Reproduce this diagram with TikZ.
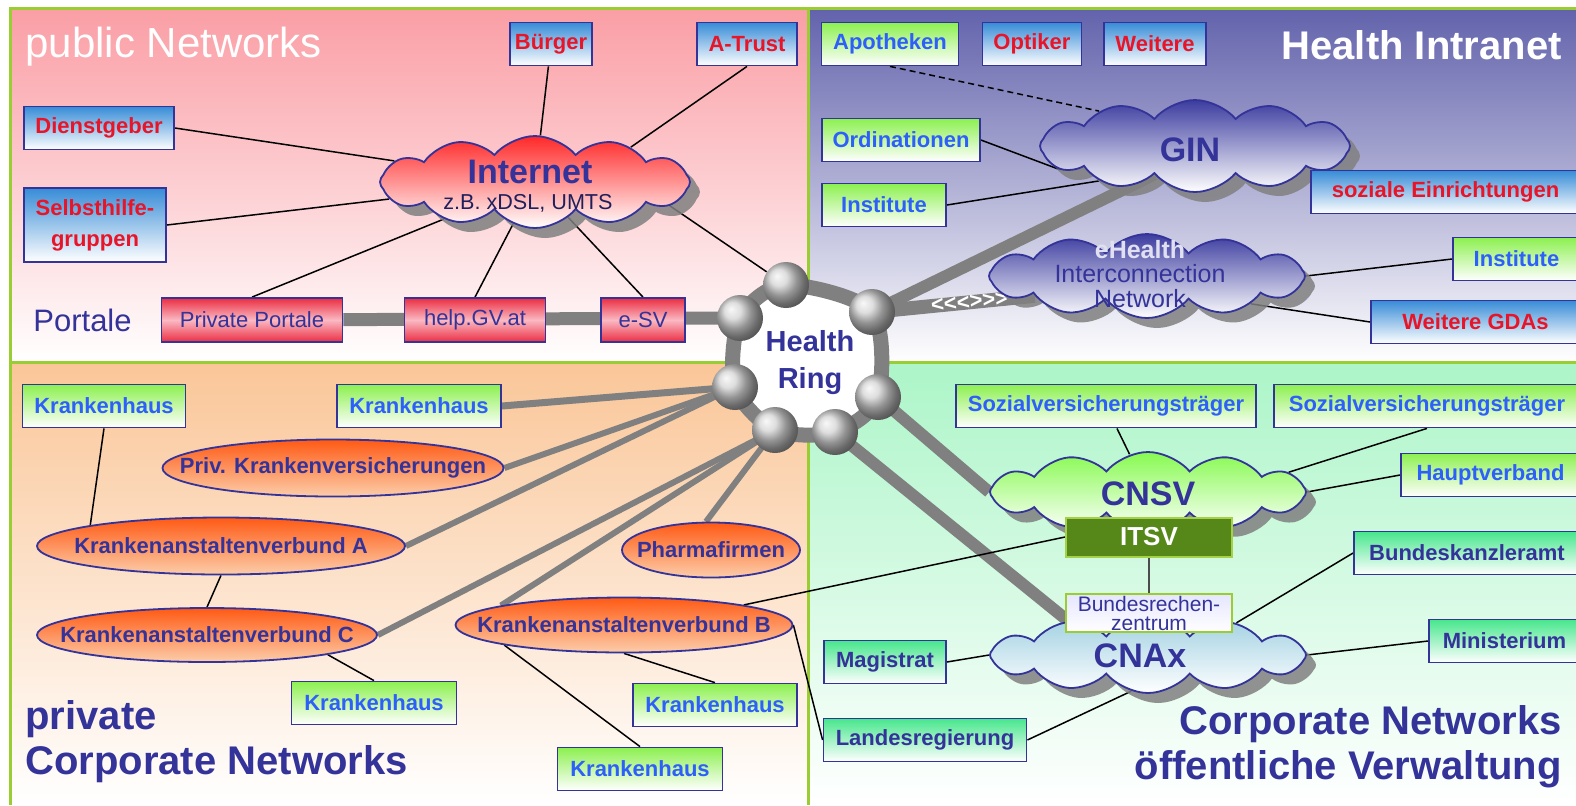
\documentclass[tikz,border=0pt]{standalone}
\usepackage{fontspec}
\setmainfont{Liberation Sans}
\usetikzlibrary{shapes.geometric,shapes.symbols,shadows}
\definecolor{nblue}{RGB}{51,51,153}
\definecolor{tred}{RGB}{232,20,40}
\definecolor{tblue}{RGB}{45,95,250}
\definecolor{bxblue}{RGB}{55,140,215}
\definecolor{bxgreen}{RGB}{140,240,80}
\definecolor{bxteal}{RGB}{70,230,140}
\definecolor{portred}{RGB}{235,45,65}
\definecolor{portpink}{RGB}{250,185,195}
\definecolor{lgreen}{RGB}{154,205,50}
\definecolor{itsvgreen}{RGB}{85,135,25}
\definecolor{ringgray}{RGB}{128,128,128}
\definecolor{pinkq}{RGB}{250,158,165}
\definecolor{violq}{RGB}{98,98,172}
\definecolor{orangeq}{RGB}{250,198,152}
\definecolor{greenq}{RGB}{172,245,200}
\definecolor{ellorange}{RGB}{255,90,20}
\definecolor{ellpeach}{RGB}{252,205,170}
\definecolor{cnaxblue}{RGB}{160,208,225}
\definecolor{cnsvgreen}{RGB}{135,250,80}
\definecolor{ginblue}{RGB}{60,60,160}
\definecolor{inetred}{RGB}{255,40,40}
\pgfdeclarelayer{bg}
\pgfdeclarelayer{links}
\pgfdeclarelayer{ringl}
\pgfsetlayers{bg,links,ringl,main}
\newcommand\ztext[1]{\makebox[0pt]{#1}}
\newcommand\chevrons{<\kern0pt<\kern0pt<\kern0pt>\kern0pt>\kern0pt>}
\tikzset{
    rimline/.style={draw=lgreen, line width=1.5pt},
    bx/.style={rectangle, draw=nblue, line width=0.9pt, minimum height=21.5pt,
        inner sep=0pt, font=\fontsize{11}{12}\selectfont\bfseries, bottom color=white},
    bxred/.style={bx, top color=bxblue, text=tred},
    bxgrn/.style={bx, top color=bxgreen, text=tblue},
    bxteal/.style={bx, top color=bxteal, text=nblue},
    portal/.style={rectangle, draw=nblue, line width=0.9pt, minimum height=22pt,
        inner sep=0pt, top color=portred, bottom color=portred, middle color=portpink,
        text=nblue, font=\fontsize{11}{12}\selectfont},
    ell/.style={ellipse, draw=nblue, line width=0.9pt, inner sep=0pt, bottom color=ellpeach,
        top color=ellorange, text=nblue, font=\fontsize{11}{12}\selectfont\bfseries},
    net/.style={cloud, cloud puffs=12, cloud puff arc=100, cloud ignores aspect,
        draw=nblue, line width=0.9pt, inner sep=0pt, bottom color=white,
        drop shadow={shadow xshift=5pt, shadow yshift=-5pt, fill=ringgray, opacity=0.85}},
    nettext/.style={text=nblue, font=\fontsize{17}{18}\selectfont\bfseries},
    link/.style={draw=black, line width=0.75pt},
    trunk/.style={draw=ringgray, line width=6pt},
    spoke/.style={draw=ringgray, line width=3pt},
    ringball/.style={circle, minimum size=23pt, inner sep=0pt, ball color=gray!35},
    bigtitle/.style={inner sep=0pt, font=\fontsize{20}{22.5}\selectfont\bfseries}
}

\begin{document}
\begin{tikzpicture}[x=0.5pt,y=-0.5pt]
        \useasboundingbox (0,0) rectangle (1576,805);
        \begin{pgfonlayer}{bg}
            \fill[white] (0,0) rectangle (1576,805);
            \fill[top color=pinkq, bottom color=white] (10,8) rectangle (808,362);
            \fill[top color=violq, bottom color=white] (808,8) rectangle (1576,362);
            \fill[top color=orangeq, bottom color=white] (10,362) rectangle (808,805);
            \fill[top color=greenq, bottom color=white] (808,362) rectangle (1576,805);
            \draw[rimline] (10,805) -- (10,8) -- (1576,8);
            \draw[rimline] (10,362) -- (1576,362);
            \draw[rimline] (808,8) -- (808,805);
        \end{pgfonlayer}

        \node[text=white, inner sep=0pt, font=\fontsize{21}{24}\selectfont, anchor=base west] (pubtitle) at (25,57) {public Networks};
        \node[text=white, inner sep=0pt, font=\fontsize{20}{24}\selectfont\bfseries, anchor=base east] (hititle) at (1562,59) {Health Intranet};
        \node[text=nblue, inner sep=0pt, font=\fontsize{15.5}{18}\selectfont, anchor=base west] (portale) at (33,331) {Portale};
        \node[bigtitle, text=nblue, align=left, anchor=north west] (privtitle) at (25,700) {private\\Corporate Networks};
        \node[bigtitle, text=nblue, align=right, anchor=north east] (pubcorp) at (1562,705) {Corporate Networks\\öffentliche Verwaltung};

        \node[ringball] (b1) at (786,285) {};
        \node[ringball] (b2) at (872,312) {};
        \node[ringball] (b3) at (878,397) {};
        \node[ringball] (b4) at (835,432) {};
        \node[ringball] (b5) at (775,430) {};
        \node[ringball] (b6) at (735,387) {};
        \node[ringball] (b7) at (740,318) {};
        \node[text=nblue, align=center, font=\fontsize{14.5}{18.5}\selectfont\bfseries] (hring) at (810,363) {Health\\Ring};

        \node[net, top color=inetred, minimum width=155pt, minimum height=46pt] (inet) at (535,182) {};
        \node[nettext] (inet-t) at (530,172) {Internet};
        \node[text=nblue!60!black, font=\fontsize{10.8}{12}\selectfont] (inet-s) at (528,203) {z.B. xDSL, UMTS};
        \node[net, top color=ginblue, minimum width=155pt, minimum height=46pt] (gin) at (1195,146) {};
        \node[nettext] (gin-t) at (1190,150) {GIN};
        \node[net, top color=ginblue, minimum width=158pt, minimum height=42pt] (ehin) at (1147,276) {};
        \node[text=nblue, align=center, font=\fontsize{12.5}{12.3}\selectfont] (ehin-t) at (1140,274) {{\bfseries\color{white!85!nblue}eHealth}\\Interconnection\\Network};
        \node[net, top color=cnsvgreen, minimum width=158pt, minimum height=40pt] (cnsv) at (1148,492) {};
        \node[nettext] (cnsv-t) at (1148,494) {CNSV};
        \node[net, top color=cnaxblue, minimum width=158pt, minimum height=38pt] (cnax) at (1148,655) {};
        \node[nettext] (cnax-t) at (1140,656) {CNAx};

        \node[bxred, minimum width=41pt] (burger) at (551,44) {Bürger};
        \node[bxred, minimum width=50pt] (atrust) at (747,44) {A-Trust};
        \node[bxred, minimum width=75pt] (dienst) at (99,128) {Dienstgeber};
        \node[bxred, minimum width=71pt, minimum height=37pt, align=center,
            font=\fontsize{11}{15.5}\selectfont\bfseries] (selbst) at (95,225) {Selbsthilfe-\\gruppen};
        \node[portal, minimum width=90.5pt] (pp) at (252,320) {Private Portale};
        \node[portal, minimum width=70.5pt] (helpgv) at (475,320) {help.GV.at};
        \node[portal, minimum width=42pt] (esv) at (643,320) {e-SV};

        \node[bxgrn, minimum width=68.5pt] (apoth) at (890,44) {Apotheken};
        \node[bxred, minimum width=49.5pt] (optik) at (1032,44) {Optiker};
        \node[bxred, minimum width=51pt] (weitere) at (1155,44) {Weitere};
        \node[bxgrn, minimum width=79pt] (ordin) at (901,140) {Ordinationen};
        \node[bxgrn, minimum width=62pt] (instl) at (884,205) {Institute};
        \node[bxred, minimum width=134.5pt] (sozein) at (1445.5,192) {soziale Einrichtungen};
        \node[bxgrn, minimum width=63.5pt] (instr) at (1516.5,259) {Institute};
        \node[bxred, minimum width=104.5pt] (gdas) at (1475.5,322) {Weitere GDAs};

        \node[bxgrn, minimum width=81.5pt] (kh1) at (104,406) {Krankenhaus};
        \node[bxgrn, minimum width=82pt] (kh2) at (419,406) {Krankenhaus};
        \node[bxgrn, minimum width=82.5pt] (kh3) at (374,703) {Krankenhaus};
        \node[bxgrn, minimum width=82pt] (kh4) at (715,705) {Krankenhaus};
        \node[bxgrn, minimum width=82.5pt] (kh5) at (640,769) {Krankenhaus};
        \node[ell, minimum width=170.5pt, minimum height=28.5pt] (pkv) at (333,468) {\ztext{Priv. Krankenversicherungen}};
        \node[ell, minimum width=184pt, minimum height=28.5pt] (kava) at (221,546) {\ztext{Krankenanstaltenverbund A}};
        \node[ell, minimum width=170pt, minimum height=27pt] (kavc) at (207,635) {\ztext{Krankenanstaltenverbund C}};
        \node[ell, minimum width=168.5pt, minimum height=27.5pt] (kavb) at (624,625) {\ztext{Krankenanstaltenverbund B}};
        \node[ell, minimum width=89pt, minimum height=27.5pt] (pharma) at (711,550) {\ztext{Pharmafirmen}};

        \node[bxgrn, minimum width=150pt] (svt1) at (1106,406) {Sozialversicherungsträger};
        \node[bxgrn, minimum width=153pt] (svt2) at (1427,406) {Sozialversicherungsträger};
        \node[bxgrn, minimum width=89.5pt] (haupt) at (1490.5,475) {Hauptverband};
        \node[rectangle, draw=lgreen!90!white, line width=1pt, fill=itsvgreen, minimum width=83pt, minimum height=19.5pt,
            inner sep=0pt, text=white, font=\fontsize{13}{14}\selectfont\bfseries] (itsv) at (1149,537) {ITSV};
        \node[rectangle, draw=lgreen, line width=1pt, top color=blue!10, bottom color=white, minimum width=83pt,
            minimum height=19pt, inner sep=0pt, align=center, text=nblue,
            font=\fontsize{10.5}{9.5}\selectfont] (brz) at (1149,613) {Bundesrechen-\\zentrum};
        \node[bxteal, minimum width=113pt] (bka) at (1467,553) {Bundeskanzleramt};
        \node[bxteal, minimum width=75.5pt] (mini) at (1504.5,641) {Ministerium};
        \node[bxteal, minimum width=61pt] (magis) at (885,662) {Magistrat};
        \node[bxteal, minimum width=101.5pt] (landes) at (925,740) {Landesregierung};

        \begin{pgfonlayer}{ringl}
            \draw[draw=ringgray, line width=7.5pt, fill=white] plot[smooth cycle] coordinates
                {(b1.center) (b2.center) (b3.center) (b4.center) (b5.center) (b6.center) (b7.center)};
        \end{pgfonlayer}

        \begin{pgfonlayer}{links}
            \draw[trunk, line width=6.5pt] (pp) -- (b7.center);
            \draw[trunk] (b2.center) -- (gin.215);
            \draw[trunk, line width=7pt] (b2.center) -- node[pos=0.6, sloped, text=white, inner sep=0pt,
                font=\fontsize{11}{11}\selectfont\bfseries] (ehlink) {\chevrons} (ehin.190);
            \draw[trunk] (b3.center) -- (cnsv.west);
            \draw[trunk] (b4.center) -- (cnax.157);
            \draw[spoke, line width=3.5pt] (kh2.east) -- (b6.center);
            \draw[spoke] (pkv.east) -- (b6.center);
            \draw[spoke] (kava.east) -- (b6.center);
            \draw[spoke] (kavc.east) -- (b5.center);
            \draw[spoke] (kavb.171) -- (b5.center);
            \draw[spoke] (pharma.100) -- (b5.center);

            \draw[link] (burger) -- (inet);
            \draw[link] (atrust.south) -- (inet.20);
            \draw[link] (dienst.east) -- (inet);
            \draw[link] (selbst.east) -- (inet);
            \draw[link] (pp.north) -- (inet);
            \draw[link] (helpgv.north) -- (inet);
            \draw[link] (esv.north) -- (inet);
            \draw[link] (inet.-10) -- (b1);
            \draw[link, densely dashed] (apoth.south) -- (gin.160);
            \draw[link] (ordin.east) -- (gin.190);
            \draw[link] (instl.east) -- (gin.200);
            \draw[link] (ehin.east) -- (instr.west);
            \draw[link] (ehin.-15) -- (gdas.west);
            \draw[link] (kh1.south) -- (kava.north west);
            \draw[link] (kava.south) -- (kavc.north);
            \draw[link] (kavc.south east) -- (kh3.north);
            \draw[link] (kavb.south) -- (kh4.north);
            \draw[link] (kavb.south west) -- (kh5.north);
            \draw[link] (kavb.east) -- (landes.west);
            \draw[link] (kavb.north east) -- (itsv.west);
            \draw[link] (svt1) -- (cnsv);
            \draw[link] (svt2.south) -- (cnsv.8);
            \draw[link] (haupt.west) -- (cnsv.east);
            \draw[link, draw=black!70, line width=0.6pt] (itsv) -- (brz);
            \draw[link] (bka.west) -- (cnax.20);
            \draw[link] (mini.west) -- (cnax.east);
            \draw[link] (magis.east) -- (cnax.west);
            \draw[link] (landes.east) -- (cnax.-115);
        \end{pgfonlayer}
    \end{tikzpicture}
\end{document}
